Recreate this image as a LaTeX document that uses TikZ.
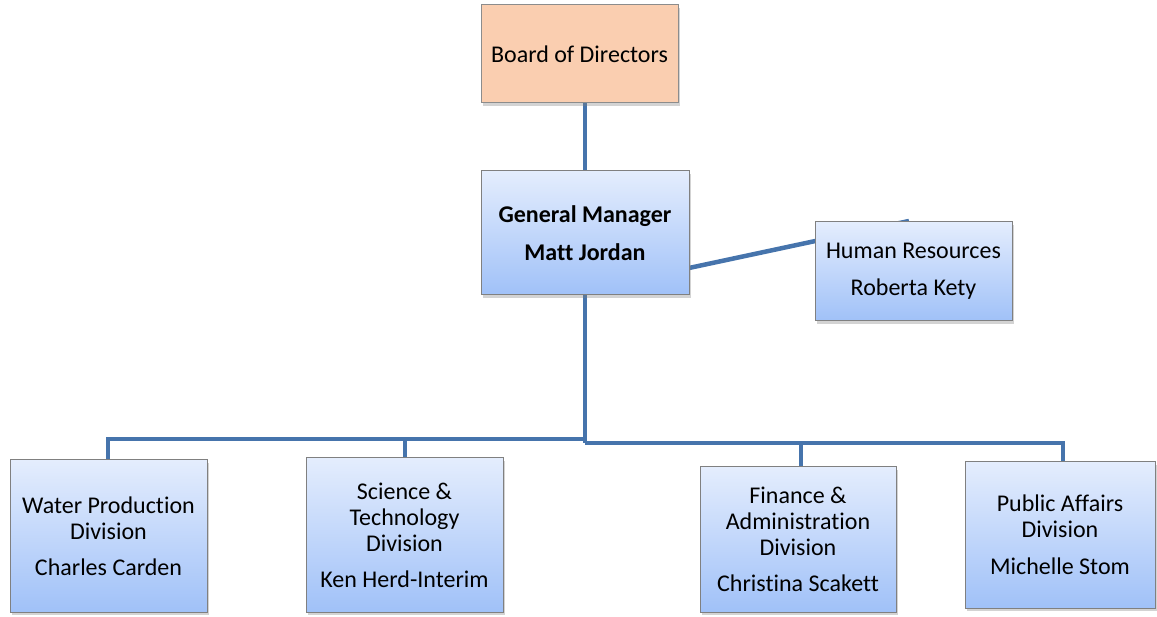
\documentclass[tikz,border=0pt]{standalone}
\usepackage{fontspec}
\setmainfont{Carlito}[Ligatures=CommonOff]
\usetikzlibrary{positioning,calc,shadows}
\definecolor{linkblue}{RGB}{70,116,172}
\definecolor{boxtop}{RGB}{228,237,253}
\definecolor{boxbot}{RGB}{160,193,248}
\definecolor{peach}{RGB}{250,206,176}
\pgfdeclarelayer{bg}
\pgfsetlayers{bg,main}
\tikzset{unit/.style={draw=black!50, line width=1pt, top color=boxtop, bottom color=boxbot, align=center, inner sep=0pt, outer sep=0pt, minimum width=197pt, drop shadow={shadow xshift=2pt, shadow yshift=-3pt, opacity=.35}}}
\tikzstyle{link}=[draw=linkblue, line width=4.5pt]

\begin{document}
\begin{tikzpicture}[x=1pt, y=-1pt, font=\fontsize{24}{26}\selectfont]
\useasboundingbox (0,0) rectangle (1157,617);
\node[unit, fill=peach, top color=peach, bottom color=peach, draw=black!45, minimum height=98pt] (B) at (579.5,54) {Board of Directors};
\node[unit, minimum width=208pt, minimum height=124pt, font=\fontsize{24}{26}\selectfont\bfseries] (GM) at (585,233) {General Manager\\[12pt]Matt Jordan};
\node[unit, minimum height=99pt] (HR) at (913.5,271.5) {Human Resources\\[11pt]Roberta Kety};
\node[unit, minimum height=152pt] (D1) at (108.5,536) {Water Production\\Division\\[10pt]Charles Carden};
\node[unit, minimum height=154pt] (D2) at (404.5,535) {Science \&\\Technology\\Division\\[10pt]Ken Herd-Interim};
\node[unit, minimum width=196pt, minimum height=145pt] (D3) at (798,539.5) {Finance \&\\Administration\\Division\\[10pt]Christina Scakett};
\node[unit, minimum width=190pt, minimum height=146pt] (D4) at (1060,535) {Public Affairs\\Division\\[11pt]Michelle Stom};
% connectors
\coordinate (JL) at (585,439);
\coordinate (JR) at (585,443);
\coordinate (hrend) at (909,221);
\begin{pgfonlayer}{bg}
\draw[link] (GM.north |- B.south) -- (GM.north);
\draw[link] ($(GM.east)+(0,35)$) -- (hrend);
\draw[link] (GM.south) -- (JR);
\draw[link] (JL) -| ([xshift=-0.5pt]D1.north);
\draw[link] (JL) -| ([xshift=0.5pt]D2.north);
\draw[link] (JR) -| ([xshift=3pt]D3.north);
\draw[link] (JR) -| ([xshift=3pt]D4.north);
\end{pgfonlayer}
\end{tikzpicture}
\end{document}
